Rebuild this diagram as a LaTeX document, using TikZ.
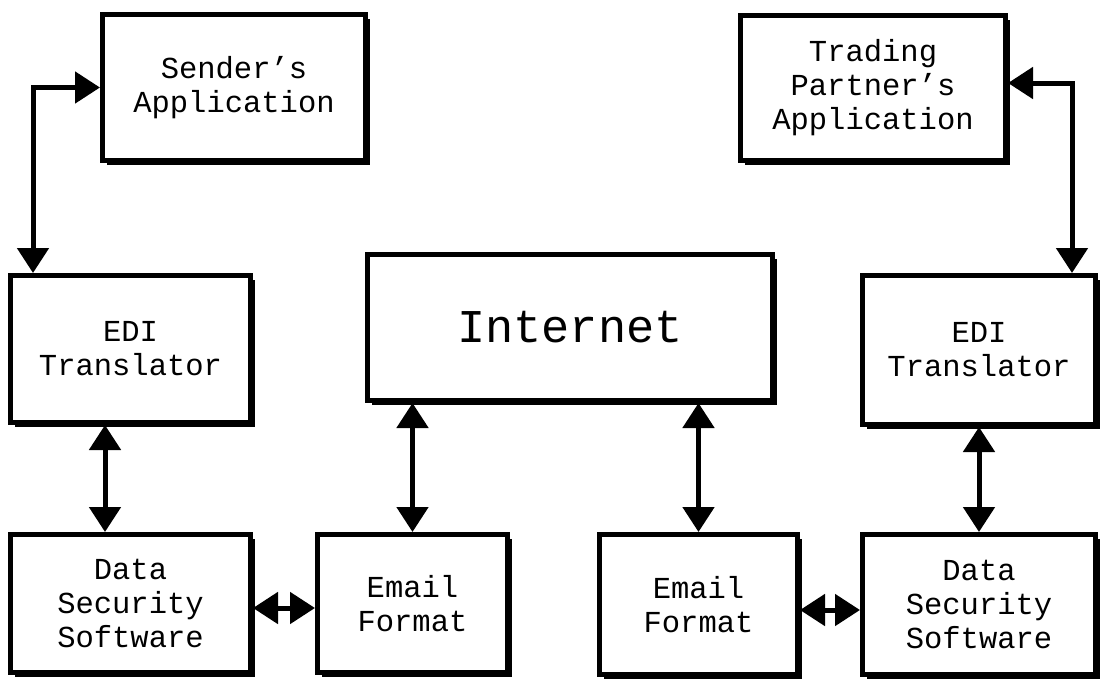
\documentclass[tikz,border=0pt]{standalone}
\usepackage{fontspec}
\newfontfamily\cmono{Liberation Mono}
\usetikzlibrary{arrows.meta,shadows}
\begin{document}
\begin{tikzpicture}[x=1pt,y=-1pt,
  box/.style={draw=black, line width=5pt, fill=white, align=center, inner sep=0pt,
    font={\cmono\fontsize{30.5}{34}\selectfont},
    drop shadow={shadow xshift=4pt, shadow yshift=-4pt, fill=black, opacity=1}},
  bigbox/.style={box, font={\cmono\fontsize{47}{50}\selectfont}},
  conn/.style={line width=5pt, {Triangle[length=25pt,width=31pt]}-{Triangle[length=25pt,width=31pt]}}]
\useasboundingbox (0,0) rectangle (1102,683);
\fill[white] (0,0) rectangle (1102,683);

\node[box, minimum width=263, minimum height=146] (sa) at (234,87.5) {Sender’s\\Application};
\node[box, minimum width=265, minimum height=145] (tp) at (873,88) {Trading\\Partner’s\\Application};
\node[box, minimum width=240, minimum height=147] (edil) at (130.5,349) {EDI\\Translator};
\node[bigbox, minimum width=405, minimum height=146] (inet) at (570,327.5) {Internet};
\node[box, minimum width=233, minimum height=149] (edir) at (979,350) {EDI\\Translator};
\node[box, minimum width=240, minimum height=138] (dssl) at (130.5,603.5) {Data\\Security\\Software};
\node[box, minimum width=190, minimum height=138] (emaill) at (412.5,603.5) {Email\\Format};
\node[box, minimum width=198, minimum height=140] (emailr) at (698.5,604.5) {Email\\Format};
\node[box, minimum width=233, minimum height=140] (dssr) at (979,604.5) {Data\\Security\\Software};

\draw[conn] (sa.west) -| ([xshift=25pt]edil.north west);
\draw[conn] ([yshift=5pt]tp.east) -| ([xshift=-26pt]edir.north east);
\draw[conn] ([xshift=-25.5pt]edil.south) -- ([xshift=-25.5pt]dssl.north);
\draw[conn] (emaill.north |- inet.south) -- (emaill.north);
\draw[conn] (emailr.north |- inet.south) -- (emailr.north);
\draw[conn] (edir.south) -- (dssr.north);
\draw[conn] ([yshift=-4.5pt]dssl.east) -- ([yshift=-4.5pt]emaill.west);
\draw[conn] ([yshift=-5.5pt]emailr.east) -- ([yshift=-5.5pt]dssr.west);
\end{tikzpicture}
\end{document}
